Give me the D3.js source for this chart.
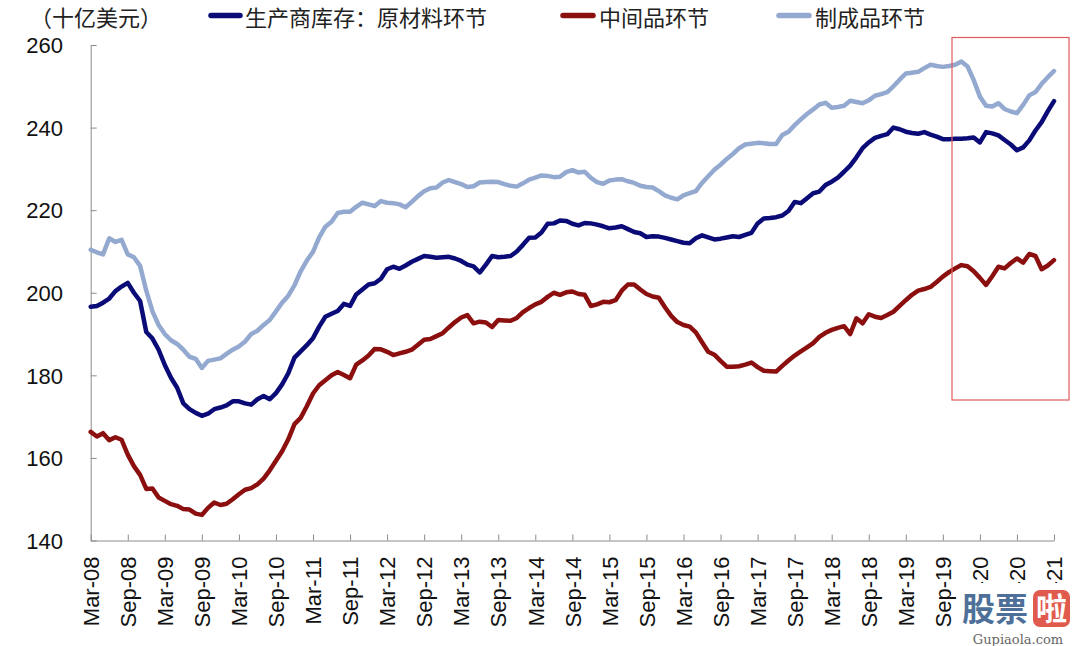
<!DOCTYPE html>
<html>
<head>
<meta charset="utf-8">
<script src="https://cdn.jsdelivr.net/npm/d3@7"></script>
<style>
  html, body { margin: 0; padding: 0; background: #fff; }
  svg { display: block; }
</style>
</head>
<body>
<svg id="chart" width="1080" height="646"></svg>
<script>
// ---------------- DATA ----------------
const monthCount = 157;                 // Mar-08 .. Mar-21, monthly

const seriesNames = ["生产商库存：原材料环节", "中间品环节", "制成品环节"];
const unitLabel = "（十亿美元）";

const yTicks = [140, 160, 180, 200, 220, 240, 260];

const xTickLabels = ["Mar-08","Sep-08","Mar-09","Sep-09","Mar-10","Sep-10","Mar-11","Sep-11",
  "Mar-12","Sep-12","Mar-13","Sep-13","Mar-14","Sep-14","Mar-15","Sep-15","Mar-16","Sep-16",
  "Mar-17","Sep-17","Mar-18","Sep-18","Mar-19","Sep-19","Mar-20","Sep-20","Mar-21"];

// 原材料环节 (navy)
const rawMaterials = [
196.6,196.8,197.6,198.6,200.4,201.5,202.4,200.0,198.0,190.5,188.9,186.2,
182.5,179.4,177.0,173.2,171.8,170.9,170.2,170.7,171.8,172.2,172.7,173.7,
173.7,173.2,172.9,174.2,175.0,174.2,175.7,177.8,180.5,184.3,185.8,187.3,
189.0,191.8,194.2,194.9,195.6,197.3,196.8,199.6,200.8,202.0,202.3,203.4,
205.7,206.3,205.8,206.6,207.5,208.2,208.9,208.7,208.5,208.6,208.7,208.3,
207.7,206.8,206.4,204.9,206.8,208.9,208.6,208.7,208.9,210.0,211.6,213.3,
213.4,214.6,216.7,216.8,217.5,217.4,216.7,216.3,216.9,216.8,216.5,216.1,
215.6,215.8,216.1,215.4,214.7,214.4,213.5,213.7,213.6,213.3,212.9,212.5,
212.1,212.0,213.2,213.9,213.4,212.9,213.1,213.4,213.7,213.5,214.0,214.5,
216.8,218.0,218.1,218.3,218.7,219.8,222.0,221.7,222.9,224.1,224.5,226.1,
226.9,227.9,229.3,230.8,232.8,235.0,236.4,237.5,238.0,238.4,240.0,239.6,
239.0,238.7,238.5,238.9,238.3,237.8,237.2,237.2,237.3,237.3,237.4,237.6,
236.4,238.9,238.6,238.1,237.0,235.9,234.5,235.2,236.9,239.3,241.3,244.0,
246.4];

// 中间品环节 (dark red)
const intermediate = [
166.3,165.2,166.0,164.3,165.0,164.4,160.8,158.0,155.9,152.5,152.6,150.4,
149.6,148.8,148.4,147.6,147.5,146.5,146.2,147.9,149.2,148.6,148.9,150.0,
151.2,152.3,152.7,153.6,155.0,157.0,159.3,161.6,164.5,168.2,169.7,172.5,
175.6,177.6,178.8,180.0,180.8,180.1,179.3,182.6,183.6,184.8,186.4,186.3,
185.7,184.9,185.3,185.7,186.2,187.4,188.6,188.8,189.5,190.2,191.6,192.9,
194.0,194.6,192.6,193.0,192.8,191.7,193.4,193.3,193.2,193.9,195.3,196.3,
197.2,197.8,199.0,200.0,199.5,200.1,200.3,199.7,199.5,196.8,197.2,197.8,
197.7,198.2,200.5,202.0,202.0,200.8,199.7,199.1,198.8,196.5,194.4,192.9,
192.2,191.8,190.4,188.0,185.7,185.0,183.5,182.1,182.1,182.2,182.6,183.1,
182.0,181.1,181.0,180.9,182.3,183.6,184.8,185.8,186.8,187.8,189.3,190.3,
191.0,191.5,191.9,190.0,193.8,192.6,194.8,194.2,193.9,194.6,195.4,196.8,
198.2,199.5,200.5,200.9,201.4,202.6,203.9,205.0,205.9,206.7,206.4,205.2,
203.6,201.9,204.0,206.3,205.9,207.2,208.3,207.3,209.4,208.9,205.7,206.6,
207.9];

// 制成品环节 (light blue)
const finished = [
210.4,209.8,209.3,213.2,212.3,212.8,209.3,208.6,206.5,200.5,195.5,192.2,
190.0,188.5,187.6,186.2,184.5,184.0,181.8,183.5,183.8,184.1,185.2,186.2,
187.0,188.2,190.0,190.8,192.2,193.4,195.5,197.6,199.3,201.8,205.2,207.8,
209.9,213.4,216.0,217.2,219.3,219.6,219.6,220.8,221.8,221.4,221.0,222.2,
221.8,221.7,221.4,220.7,222.0,223.4,224.6,225.3,225.5,226.7,227.3,226.8,
226.3,225.6,225.8,226.7,226.8,226.9,226.8,226.3,225.9,225.7,226.5,227.4,
227.9,228.4,228.3,228.0,228.1,229.2,229.7,229.1,229.3,227.8,226.8,226.4,
227.2,227.4,227.5,227.0,226.6,225.9,225.6,225.5,224.6,223.6,223.0,222.6,
223.6,224.1,224.6,226.6,228.2,229.8,231.0,232.4,233.6,235.0,235.9,236.1,
236.3,236.2,236.0,236.0,238.2,239.0,240.6,242.0,243.3,244.4,245.6,246.0,
244.8,245.0,245.3,246.5,246.2,245.9,246.6,247.7,248.1,248.6,250.0,251.6,
253.1,253.3,253.5,254.4,255.2,254.9,254.7,254.9,255.2,256.0,254.8,251.5,
247.5,245.3,245.1,245.9,244.5,243.9,243.5,245.5,247.8,248.6,250.6,252.2,
253.7];

const seriesColors = ["#0b0b78", "#8c0f0f", "#94a9d0"];

// ---------------- CHART ----------------
const svg = d3.select("#chart");
const plotLeft = 90.7, plotRight = 1054, plotTop = 45, plotBottom = 540.5;

const x = d3.scaleLinear().domain([0, monthCount - 1]).range([plotLeft, plotRight]);
const y = d3.scaleLinear().domain([140, 260]).range([plotBottom, plotTop]);

// axes
const xAxis = d3.axisBottom(x)
  .tickValues(d3.range(0, monthCount, 6))
  .tickFormat((d, i) => xTickLabels[i])
  .tickSizeInner(-6).tickSizeOuter(0);
const gx = svg.append("g").attr("transform", `translate(0,${plotBottom})`).call(xAxis);
gx.select(".domain").attr("stroke", "#8c8c8c");
gx.selectAll(".tick line").attr("stroke", "#8c8c8c");
gx.selectAll(".tick text")
  .attr("transform", "rotate(-90)")
  .attr("x", -16).attr("y", 0).attr("dy", "0.35em")
  .attr("text-anchor", "end")
  .style("font-family", "'Liberation Sans', Arial, sans-serif")
  .style("font-size", "22px")
  .attr("fill", "#111");

const yAxis = d3.axisLeft(y).tickValues(yTicks).tickSizeInner(-6).tickSizeOuter(0).tickFormat(d3.format("d"));
const gy = svg.append("g").attr("transform", `translate(${plotLeft},0)`).call(yAxis);
gy.select(".domain").attr("stroke", "#8c8c8c");
gy.selectAll(".tick line").attr("stroke", "#8c8c8c");
gy.selectAll(".tick text")
  .attr("x", -27.7).attr("dy", "0.35em")
  .style("font-family", "'Liberation Sans', Arial, sans-serif")
  .style("font-size", "22px")
  .attr("fill", "#111");

// lines
const line = d3.line().x((d, i) => x(i)).y(d => y(d));
const seriesData = [finished, rawMaterials, intermediate];
const seriesCol = [seriesColors[2], seriesColors[0], seriesColors[1]];
seriesData.forEach((s, k) => {
  svg.append("path").datum(s)
    .attr("d", line)
    .attr("fill", "none")
    .attr("stroke", seriesCol[k])
    .attr("stroke-width", 4.5)
    .attr("stroke-linejoin", "round")
    .attr("stroke-linecap", "round");
});

// highlight box
svg.append("rect")
  .attr("x", 952).attr("y", 37.5).attr("width", 117).attr("height", 362.5)
  .attr("fill", "none").attr("stroke", "#de5b5b").attr("stroke-width", 1.2);

// legend
const cjk = "'Noto Sans CJK SC', 'Noto Sans', sans-serif";
const legendBase = 25.5;
svg.append("text").attr("x", 30).attr("y", legendBase)
  .style("font-family", cjk).style("font-size", "22px").attr("fill", "#222")
  .text(unitLabel);
const legendItems = [
  {x1: 211, x2: 240, tx: 245, name: seriesNames[0], color: seriesColors[0]},
  {x1: 563, x2: 593, tx: 599, name: seriesNames[1], color: seriesColors[1]},
  {x1: 779, x2: 809, tx: 815, name: seriesNames[2], color: seriesColors[2]}
];
legendItems.forEach(it => {
  svg.append("line").attr("x1", it.x1).attr("x2", it.x2).attr("y1", 15.5).attr("y2", 15.5)
    .attr("stroke", it.color).attr("stroke-width", 5.5).attr("stroke-linecap", "round");
  svg.append("text").attr("x", it.tx).attr("y", legendBase)
    .style("font-family", cjk).style("font-size", "22px").attr("fill", "#222")
    .text(it.name);
});

// watermark
const wm = svg.append("g");
wm.append("rect").attr("x", 958).attr("y", 583).attr("width", 122).attr("height", 63).attr("fill", "#fff");
wm.append("text").attr("x", 962).attr("y", 621)
  .style("font-family", cjk).style("font-size", "33px").style("font-weight", "bold")
  .attr("fill", "#4d6f98").text("股票");
wm.append("rect").attr("x", 1033).attr("y", 590).attr("width", 37).attr("height", 37).attr("rx", 7)
  .attr("fill", "#e05a4e");
wm.append("text").attr("x", 1051.5).attr("y", 620).attr("text-anchor", "middle")
  .style("font-family", cjk).style("font-size", "31px").style("font-weight", "bold")
  .attr("fill", "#fff").text("啦");
wm.append("text").attr("x", 1018).attr("y", 644).attr("text-anchor", "middle")
  .style("font-family", "'DejaVu Serif', 'Liberation Serif', serif").style("font-size", "13px")
  .attr("fill", "#666").text("Gupiaola.com");
</script>
</body>
</html>
